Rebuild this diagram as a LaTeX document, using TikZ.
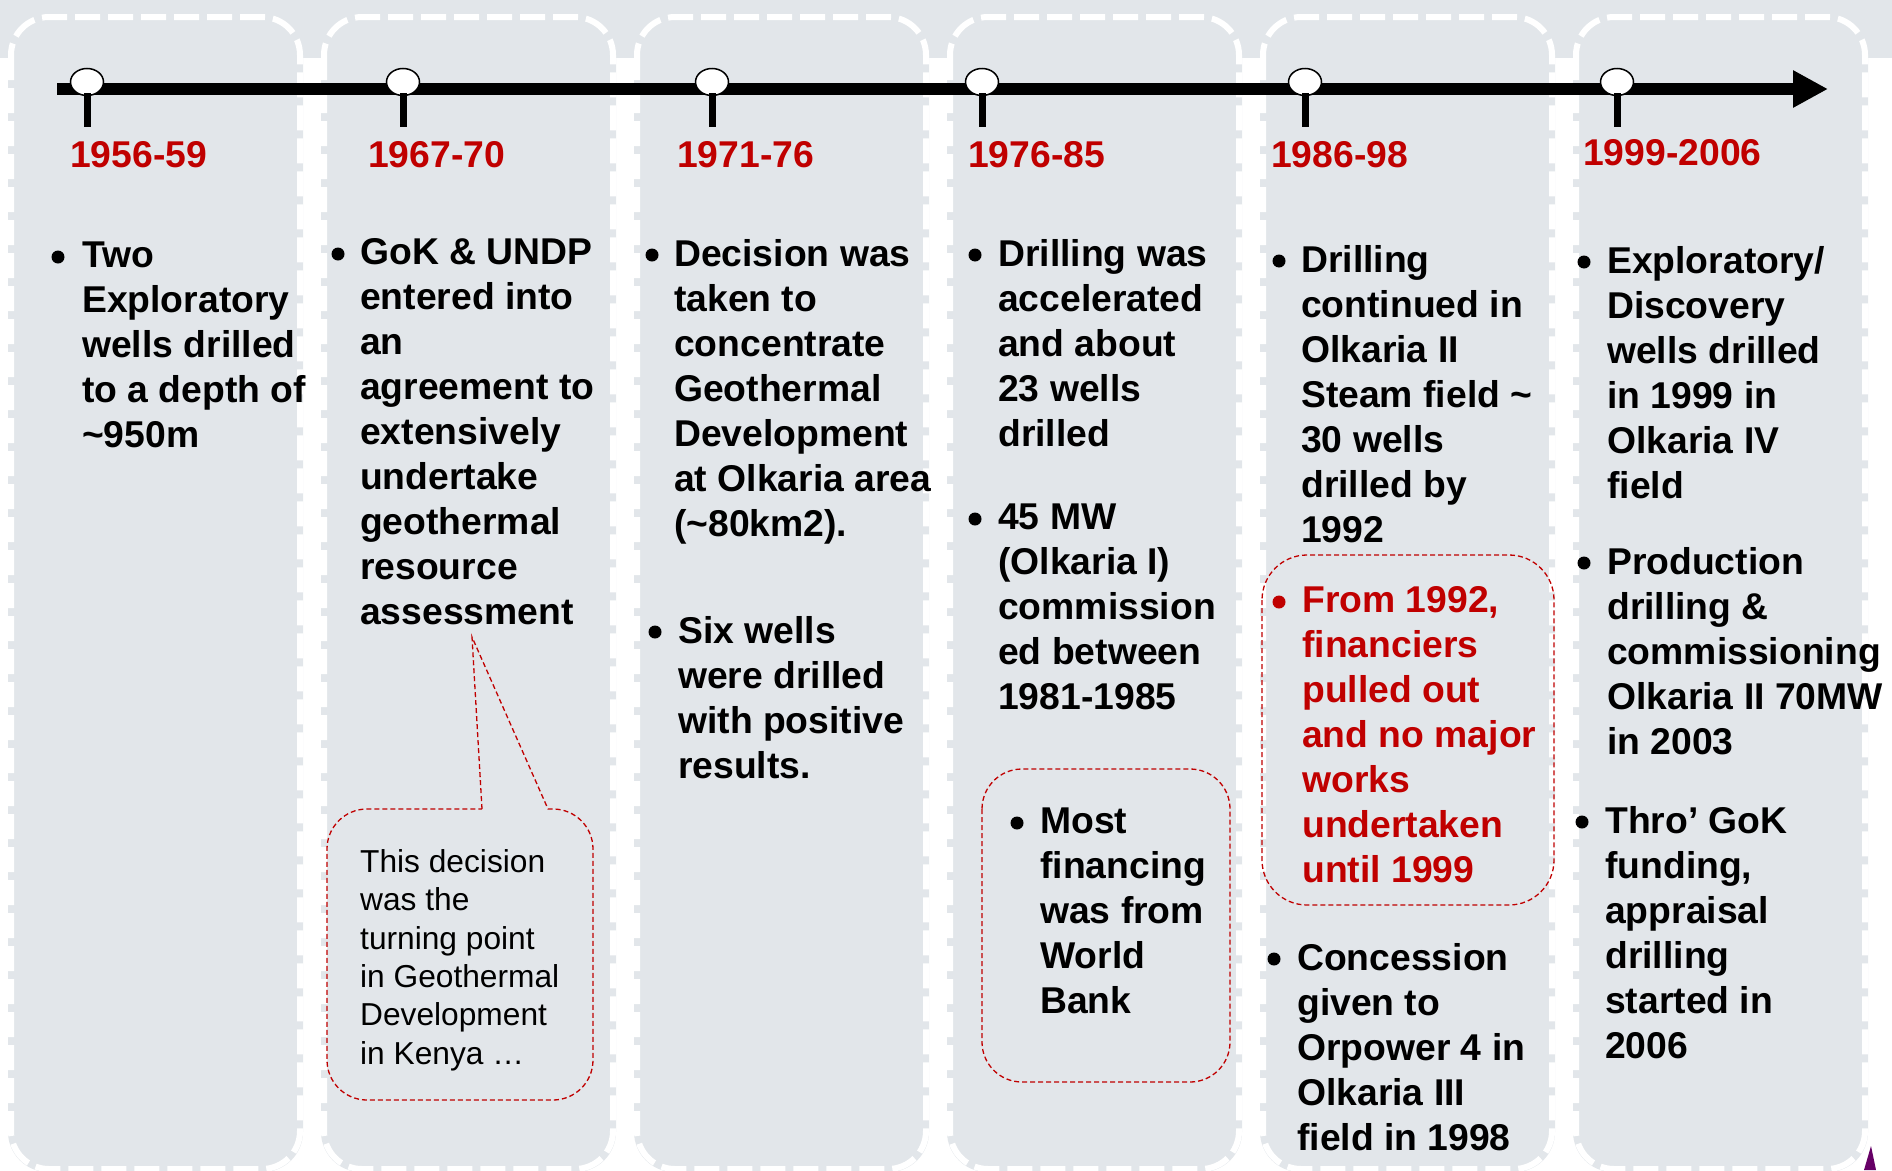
\documentclass[tikz,border=0pt]{standalone}
\usepackage{fontspec}
\setmainfont{Liberation Sans}
\usetikzlibrary{arrows.meta,shapes.geometric}

\definecolor{panel}{HTML}{E2E6EA}
\definecolor{kenred}{HTML}{C00000}

\begin{document}
\begin{tikzpicture}[
    x=1pt, y=-1pt,
    lane/.style={draw=white, line width=6pt, dash pattern=on 25pt off 8pt, rounded corners=38pt},
    stop/.style={ellipse, draw, fill=white, line width=1.5pt, minimum width=33pt, minimum height=27pt, inner sep=0pt},
    tick/.style={line width=7pt},
    year/.style={anchor=base west, inner sep=0pt, text=kenred, font=\bfseries\fontsize{37.3}{44.9}\selectfont},
    txt/.style={anchor=north west, yshift=25.43pt, inner sep=0pt, align=left,
      execute at begin node=\strut, font=\bfseries\fontsize{37.3}{44.9}\selectfont},
    dot/.style={circle, fill=black, minimum size=13pt, inner sep=0pt, yshift=10pt},
    note/.style={draw=kenred, line width=1.3pt, dash pattern=on 5pt off 3pt},
    call/.style={anchor=north west, yshift=20.88pt, inner sep=0pt, align=left,
      execute at begin node=\strut, font=\fontsize{31.7}{38.4}\selectfont}
  ]
  \useasboundingbox (0,0) rectangle (1892,1170);
  \clip (0,0) rectangle (1892,1170);

  % background lanes
  \fill[panel] (0,0) rectangle (1892,58);
  \foreach \i in {0,...,5} {
    \fill[panel, rounded corners=40pt] ({8+313*\i},14) rectangle ++(295,1158);
    \draw[lane] ({11+313*\i},17) rectangle ++(289,1152);
  }

  % time line
  \draw[line width=12pt, -{Triangle[length=35pt, width=35pt]}] (57,89) -- (1828,89);
  \foreach \n/\x in {1/87, 2/403, 3/712, 4/982, 5/1305, 6/1617} {
    \node[stop] (t\n) at (\x,82) {};
    \draw[tick] ([yshift=3pt]t\n.south) -- ++(0,34);
  }

  \node[year] (y1) at (70,167)   {1956-59};
  \node[year] (y2) at (368,167)  {1967-70};
  \node[year] (y3) at (677,167)  {1971-76};
  \node[year] (y4) at (968,167)  {1976-85};
  \node[year] (y5) at (1271,167) {1986-98};
  \node[year] (y6) at (1583,165) {1999-2006};

  % 1956-59
  \node[dot] (b1) at (58,267) {};
  \node[txt] (p1) at (82,267) {Two\\Exploratory\\wells drilled\\to a depth of\\\textasciitilde950m};

  % 1967-70
  \node[dot] (b2) at (338,264) {};
  \node[txt] (p2) at (360,264) {GoK \& UNDP\\entered into\\an\\agreement to\\extensively\\undertake\\geothermal\\resource\\assessment};
  \draw[note] (482,809) -- (472,637) -- (548,809)
    {[rounded corners=40pt] -- (593,809) -- (593,1100) -- (327,1100) -- (327,809)} -- cycle;
  \node[call] (c2) at (360,870) {This decision\\was the\\turning point\\in Geothermal\\Development\\in Kenya …};

  % 1971-76
  \node[dot] (b3) at (652,265) {};
  \node[txt] (p3) at (674,265) {Decision was\\taken to\\concentrate\\Geothermal\\Development\\at Olkaria area\\(\textasciitilde80km2).};
  \node[dot] (b3a) at (655,642) {};
  \node[txt] (p3a) at (678,642) {Six wells\\were drilled\\with positive\\results.};

  % 1976-85
  \node[dot] (b4) at (975,265) {};
  \node[txt] (p4) at (998,265) {Drilling was\\accelerated\\and about\\23 wells\\drilled};
  \node[dot] (b4a) at (975,529) {};
  \node[txt] (p4a) at (998,529) {45 MW\\(Olkaria I)\\commission\\ed between\\1981-1985};
  \draw[note, rounded corners=40pt] (982,769) rectangle (1230,1082);
  \node[dot] (b4b) at (1017,833) {};
  \node[txt] (p4b) at (1040,833) {Most\\financing\\was from\\World\\Bank};

  % 1986-98
  \node[dot] (b5) at (1279,271) {};
  \node[txt] (p5) at (1301,271) {Drilling\\continued in\\Olkaria II\\Steam field \textasciitilde\\30 wells\\drilled by\\1992};
  \draw[note, rounded corners=45pt] (1262,555) rectangle (1554,905);
  \node[dot, fill=kenred] (b5a) at (1279,612) {};
  \node[txt, text=kenred] (p5a) at (1302,612) {From 1992,\\financiers\\pulled out\\and no major\\works\\undertaken\\until 1999};
  \node[dot] (b5b) at (1274,969) {};
  \node[txt] (p5b) at (1297,969) {Concession\\given to\\Orpower 4 in\\Olkaria III\\field in 1998};

  % 1999-2006
  \node[dot] (b6) at (1584,272) {};
  \node[txt] (p6) at (1607,272) {Exploratory/\\Discovery\\wells drilled\\in 1999 in\\Olkaria IV\\field};
  \node[dot] (b6a) at (1584,573) {};
  \node[txt] (p6a) at (1607,573) {Production\\drilling \&\\commissioning\\Olkaria II 70MW\\in 2003};
  \node[dot] (b6b) at (1582,832) {};
  \node[txt] (p6b) at (1605,832) {Thro’ GoK\\funding,\\appraisal\\drilling\\started in\\2006};

  \fill[violet!80!black] (1864,1170) -- (1871,1146) -- (1876,1170) -- cycle;
\end{tikzpicture}
\end{document}
